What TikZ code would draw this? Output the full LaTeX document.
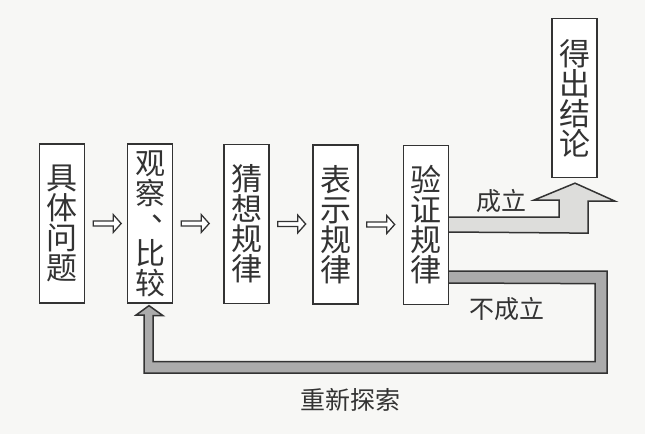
\documentclass[tikz,border=0pt]{standalone}
\usepackage{fontspec}
\newfontfamily\cjk{Noto Sans CJK SC}
\usetikzlibrary{calc}
\definecolor{ink}{HTML}{333333}
\definecolor{bg}{HTML}{F7F7F5}
\definecolor{lightfill}{HTML}{DDDDDB}
\definecolor{darkfill}{HTML}{ABABAB}
\tikzset{
  box/.style={draw=ink, line width=1.3pt, fill=white, minimum width=45pt, minimum height=159pt,
     inner sep=0pt, align=center, text=ink, font=\cjk\fontsize{31}{30}\selectfont},
  smallarr/.style={draw=ink, line width=1.3pt, fill=white, line join=miter},
  bigarr/.style={draw=ink, line width=1.5pt, line join=miter},
  lbl/.style={text=ink, font=\cjk\fontsize{25}{28}\selectfont, inner sep=0pt}
}
\begin{document}
\begin{tikzpicture}[x=1pt,y=-1pt]
\useasboundingbox (0,0) rectangle (645,434);
\fill[bg] (0,0) rectangle (645,434);
% boxes
\node[box] (b1) at (62,223.5) {具\\体\\问\\题};
\node[box, font=\cjk\fontsize{30}{30}\selectfont] (b2) at (150,223.5)
   {观\\察\\\makebox[0pt][l]{\hspace{1pt}\raisebox{13pt}[0pt][0pt]{、}}\\比\\较};
\node[box] (b3) at (246.5,224) {猜\\想\\规\\律};
\node[box] (b4) at (335.5,224.5) {表\\示\\规\\律};
\node[box] (b5) at (426,225) {验\\证\\规\\律};
\node[box] (b6) at (574.5,98) {得\\出\\结\\论};
% small hollow arrows
\foreach \a in {b1,b2,b3,b4}{
  \draw[smallarr] ($(\a.east)+(8,-2.5)$) -- ++(20,0) -- ++(0,-6.5) -- ++(8,9) -- ++(-8,9)
     -- ++(0,-6.5) -- ++(-20,0) -- cycle;
}
% 成立 arrow
\coordinate (y0) at ($(b5.east)+(0,-8)$);
\coordinate (y1) at ($(b5.east)+(0,7)$);
\fill[lightfill] (y0) -- ++(110,0) -- ++(0,-17) -- ++(-25,0) -- ($(b6.south)+(0.5,5)$)
   -- ++(40,18) -- ++(-27,0) -- ++(0,32) -- (y1) -- cycle;
\draw[bigarr] (y0) -- ++(110,0) -- ++(0,-17) -- ++(-25,0) -- ($(b6.south)+(0.5,5)$)
   -- ++(40,18) -- ++(-27,0) -- ++(0,32) -- (y1);
% 不成立 arrow
\coordinate (z0) at ($(b5.east)+(0,46)$);
\coordinate (z1) at ($(b5.east)+(0,58)$);
\coordinate (tip) at ($(b2.south)+(-1,2)$);
\fill[darkfill] (z0) -- ++(158,0) -- ++(0,102) -- ++(-463,0) -- ++(0,-58) -- ++(-8,0)
   -- (tip) -- ++(14,10) -- ++(-10,0) -- ++(0,46) -- ++(442,0) -- ++(0,-78) -- (z1) -- cycle;
\draw[bigarr] (z0) -- ++(158,0) -- ++(0,102) -- ++(-463,0) -- ++(0,-58) -- ++(-8,0)
   -- (tip) -- ++(14,10) -- ++(-10,0) -- ++(0,46) -- ++(442,0) -- ++(0,-78) -- (z1);
% labels
\node[lbl] (l1) at (501,201) {成立};
\node[lbl] (l2) at (507,309) {不成立};
\node[lbl] (l3) at (350,400) {重新探索};
\end{tikzpicture}
\end{document}
